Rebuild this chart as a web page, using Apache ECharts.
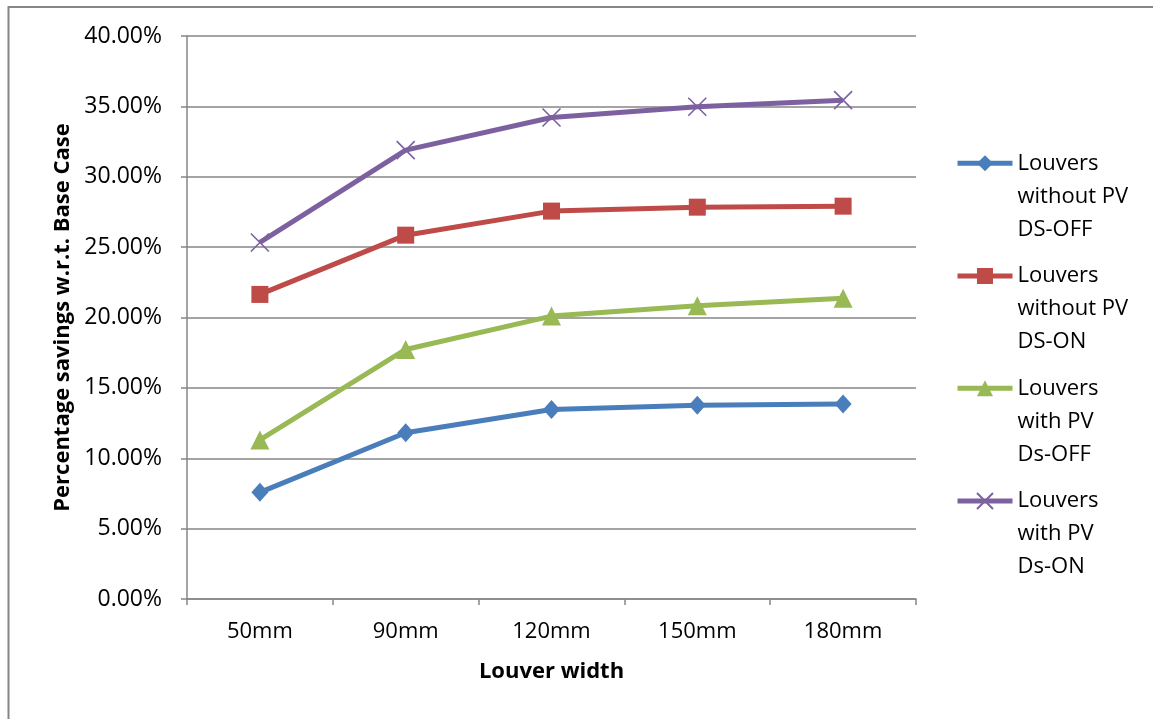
<!DOCTYPE html>
<html>
<head>
<meta charset="utf-8">
<script src="https://cdn.jsdelivr.net/npm/echarts@6/dist/echarts.min.js"></script>
<style>
html,body{margin:0;padding:0;background:#fff;}
#chart{width:1153px;height:719px;}
</style>
</head>
<body>
<div id="chart"></div>
<script>
const categories = ['50mm', '90mm', '120mm', '150mm', '180mm'];
const seriesNames = [
  'Louvers\nwithout PV\nDS-OFF',
  'Louvers\nwithout PV\nDS-ON',
  'Louvers\nwith PV\nDs-OFF',
  'Louvers\nwith PV\nDs-ON'
];
const withoutPvDsOff = [0.0758, 0.1181, 0.1347, 0.1376, 0.1385];
const withoutPvDsOn = [0.2164, 0.2585, 0.2756, 0.2784, 0.2791];
const withPvDsOff = [0.1130, 0.1773, 0.2010, 0.2083, 0.2136];
const withPvDsOn = [0.2533, 0.3189, 0.3421, 0.3497, 0.3544];
const yTicks = [0, 0.05, 0.10, 0.15, 0.20, 0.25, 0.30, 0.35, 0.40];

const colors = ['#4A7EBB', '#BE4B48', '#98B954', '#7D60A0'];
const symbols = ['diamond', 'rect', 'triangle', 'path://M0,0L10,10M10,0L0,10'];
const symbolSizes = [[17, 19], 17, 19, 18];
const dataSets = [withoutPvDsOff, withoutPvDsOn, withPvDsOff, withPvDsOn];
const FONT = '"Open Sans", "Liberation Sans", sans-serif';
const GRAY = '#868686';

const legendIconY = [163.3, 276, 388.3, 501];
const LH = 33;

const chart = echarts.init(document.getElementById('chart'), null, {renderer: 'canvas'});

const series = dataSets.map((d, i) => ({
  name: seriesNames[i],
  type: 'line',
  data: d,
  symbol: symbols[i],
  symbolSize: symbolSizes[i],
  lineStyle: {color: colors[i], width: 5},
  itemStyle: i === 3
    ? {color: colors[i], borderColor: colors[i], borderWidth: 1.6}
    : {color: colors[i], borderWidth: 0},
  emphasis: {disabled: true},
  z: 10 + i,
  animation: false
}));

const legends = seriesNames.map((n, i) => ({
  data: [n],
  orient: 'vertical',
  left: 955,
  top: legendIconY[i] - LH * 2.5,
  padding: 0,
  itemWidth: 55,
  itemHeight: 20,
  itemGap: 0,
  selectedMode: false,
  lineStyle: {width: 5},
  formatter: name => '\n\n' + name,
  textStyle: {
    fontFamily: FONT,
    fontSize: 22,
    color: '#000',
    lineHeight: LH
  }
}));

chart.setOption({
  animation: false,
  backgroundColor: '#fff',
  grid: {left: 187, right: 237, top: 36, bottom: 120, containLabel: false},
  legend: legends,
  xAxis: {
    type: 'category',
    data: categories,
    boundaryGap: true,
    name: 'Louver width',
    nameLocation: 'middle',
    nameGap: 62,
    nameTextStyle: {fontFamily: FONT, fontSize: 22, fontWeight: 'bold', color: '#000'},
    axisLine: {lineStyle: {color: GRAY, width: 1.5}},
    axisTick: {show: true, length: 6, alignWithLabel: false, lineStyle: {color: GRAY, width: 1.5}},
    axisLabel: {fontFamily: FONT, fontSize: 22, color: '#000', margin: 22},
    splitLine: {show: false}
  },
  yAxis: {
    type: 'value',
    min: yTicks[0],
    max: yTicks[yTicks.length - 1],
    interval: 0.05,
    name: 'Percentage savings w.r.t. Base Case',
    nameLocation: 'middle',
    nameGap: 110,
    nameRotate: 90,
    nameTextStyle: {fontFamily: FONT, fontSize: 22, fontWeight: 'bold', color: '#000'},
    axisLine: {show: true, lineStyle: {color: GRAY, width: 1.5}},
    axisTick: {show: true, length: 6, lineStyle: {color: GRAY, width: 1.5}},
    axisLabel: {
      fontFamily: FONT, fontSize: 23, color: '#000', margin: 25,
      formatter: v => (v * 100).toFixed(2) + '%'
    },
    splitLine: {show: true, lineStyle: {color: GRAY, width: 1.5}}
  },
  graphic: [{
    type: 'rect',
    shape: {x: 8.5, y: 7, width: 3000, height: 3000},
    style: {fill: 'none', stroke: GRAY, lineWidth: 2},
    silent: true,
    z: -1
  }],
  series: series
});
</script>
</body>
</html>
